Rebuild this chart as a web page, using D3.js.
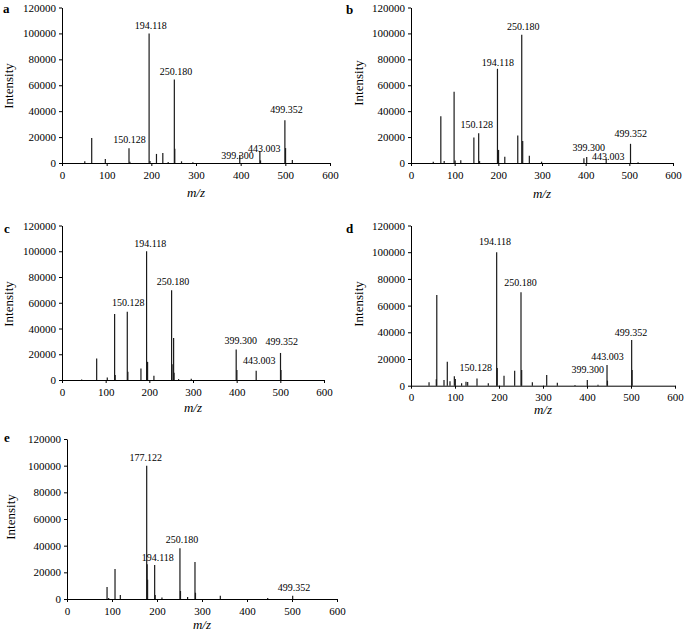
<!DOCTYPE html>
<html>
<head>
<meta charset="utf-8">
<script src="https://cdn.jsdelivr.net/npm/d3@7/dist/d3.min.js"></script>
<style>
  html, body { margin: 0; padding: 0; background: #fff; }
  svg { display: block; }
</style>
</head>
<body>
<svg id="chart" width="685" height="640"></svg>
<script>
// ---------- DATA ----------
const xTicks = [0, 100, 200, 300, 400, 500, 600];
const yTicks = [0, 20000, 40000, 60000, 80000, 100000, 120000];
const panelIds = ["a", "b", "c", "d", "e"];

// peaks: [m/z, intensity]
const peaksA = [[51,1300],[66.5,19200],[97,3000],[150,11300],[152,1000],[195,100000],[197,1500],[211.5,7000],[225.7,7700],[237.7,800],[251.5,64500],[252.5,11000],[267.6,1300],[293,500],[398,6200],[443,9200],[444.5,2000],[499,33000],[500.5,11500],[515.7,2300]];
const peaksB = [[51,1000],[68.3,36000],[76,1500],[98.7,55000],[101,2000],[114,2200],[144,19700],[155,22900],[157,1500],[198,72700],[200.5,10100],[214.8,4900],[244.5,21300],[253.6,99000],[255.8,16900],[271,5500],[299,1000],[396,3600],[402.4,4700],[447,3100],[502.7,14800],[520,600]];
const peaksC = [[45,400],[79.4,16700],[103.7,2000],[120.5,51300],[121.8,3800],[149.5,53100],[150.8,6400],[180.8,9000],[193.7,100000],[196,14100],[210.5,3300],[251,69700],[252,12300],[255.6,32600],[256.6,5600],[267,700],[296,1000],[398.9,23600],[400.5,7700],[444.7,7200],[500.4,21000],[501.5,7700]];
const peaksD = [[41,2500],[57.5,4800],[58.6,68000],[75,4300],[82.5,18000],[88.6,3300],[98.5,7000],[100.7,5000],[115,1800],[125,3000],[128.8,2800],[150,5300],[175.7,1800],[194.7,100000],[196,13200],[211.4,7500],[235.6,11200],[250,70000],[251.5,11700],[275.8,2500],[308.4,8000],[332.6,2200],[372.7,500],[400.7,4300],[425,700],[445.5,15500],[446.5,3800],[501.5,34200],[502.5,11700]];
const peaksE = [[89,9000],[92.6,800],[106.7,22500],[118.5,3000],[177.1,100000],[178.1,26000],[179.1,14500],[194.8,25500],[196,3000],[211,1200],[251,38000],[252.2,6000],[268,1500],[284.4,27700],[285.5,4700],[340.7,2500],[446,700],[501.5,2500]];

// annotation labels: [text, m/z (centre), intensity (baseline)]
const labelsA = [["194.118",198.7,103300],["250.180",255,67900],["150.128",151,15200],["399.300",393,3200],["443.003",453,8200],["499.352",502.6,38800]];
const labelsB = [["250.180",257,103000],["194.118",199,74800],["150.128",150.6,27200],["399.300",407,9500],["443.003",452,2500],["499.352",503,20300]];
const labelsC = [["194.118",202,103500],["150.128",151.5,57500],["250.180",254,73800],["399.300",409.6,28000],["443.003",451.5,12400],["499.352",503.4,27200]];
const labelsD = [["194.118",191,105400],["250.180",249,74900],["150.128",147,11000],["399.300",401.8,9700],["443.003",446.6,19200],["499.352",500,37200]];
const labelsE = [["177.122",175,103700],["250.180",255.6,42200],["194.118",201.8,28500],["499.352",504.4,6200]];

const xTitle = "m/z";
const yTitle = "Intensity";

// ---------- LAYOUT ----------
const layout = {
  a: {x0:62,  x1:330, yB:163,   yT:7.5,   letter:[3,13],    ylab:[8,86],     mzY:197},
  b: {x0:411, x1:673, yB:163,   yT:7.5,   letter:[346,14],  ylab:[358.5,83], mzY:198},
  c: {x0:62,  x1:324, yB:380,   yT:225.5, letter:[4,233],   ylab:[8,304],    mzY:412},
  d: {x0:411, x1:675, yB:385.7, yT:225.5, letter:[346,233], ylab:[358.5,304],mzY:414},
  e: {x0:67,  x1:337, yB:599,   yT:439,   letter:[4,442],   ylab:[10,517],   mzY:629}
};
const peaksById = {a:peaksA, b:peaksB, c:peaksC, d:peaksD, e:peaksE};
const labelsById = {a:labelsA, b:labelsB, c:labelsC, d:labelsD, e:labelsE};

const FONT = "'Liberation Serif','Times New Roman',Times,serif";
const svg = d3.select("#chart");

panelIds.forEach(id => {
  const L = layout[id];
  const x = d3.scaleLinear().domain([0, 600]).range([L.x0, L.x1]);
  const y = d3.scaleLinear().domain([0, 120000]).range([L.yB, L.yT]);
  const g = svg.append("g");

  // peaks
  g.append("g").selectAll("line").data(peaksById[id]).join("line")
    .attr("x1", d => x(d[0])).attr("x2", d => x(d[0]))
    .attr("y1", y(0)).attr("y2", d => y(d[1]))
    .attr("stroke", "#1a1a1a").attr("stroke-width", 1.2);

  // axes
  const ax = g.append("g").attr("transform", `translate(0,${L.yB})`)
    .call(d3.axisBottom(x).tickValues(xTicks).tickSize(3).tickSizeOuter(0).tickPadding(5).tickFormat(d3.format("d")));
  const ay = g.append("g").attr("transform", `translate(${L.x0},0)`)
    .call(d3.axisLeft(y).tickValues(yTicks).tickSize(3).tickSizeOuter(0).tickPadding(3).tickFormat(d3.format("d")));
  [ax, ay].forEach(a => {
    a.selectAll("text").attr("font-family", FONT).attr("font-size", 11).attr("fill", "#000");
    a.selectAll("line,path").attr("stroke", "#000").attr("stroke-width", 1);
  });

  // annotation labels
  g.append("g").selectAll("text").data(labelsById[id]).join("text")
    .attr("x", d => x(d[1])).attr("y", d => y(d[2]))
    .attr("text-anchor", "middle")
    .attr("font-family", FONT).attr("font-size", 10).attr("fill", "#000")
    .text(d => d[0]);

  // titles
  g.append("text").attr("x", (L.x0 + L.x1) / 2).attr("y", L.mzY)
    .attr("text-anchor", "middle").attr("font-family", FONT).attr("font-size", 13)
    .attr("font-style", "italic").text(xTitle);
  g.append("text")
    .attr("transform", `translate(${L.ylab[0]},${L.ylab[1]}) rotate(-90)`)
    .attr("text-anchor", "middle").attr("dominant-baseline", "central")
    .attr("font-family", FONT).attr("font-size", 13).text(yTitle);
  g.append("text").attr("x", L.letter[0]).attr("y", L.letter[1])
    .attr("font-family", FONT).attr("font-size", 13).attr("font-weight", "bold").text(id);
});
</script>
</body>
</html>
